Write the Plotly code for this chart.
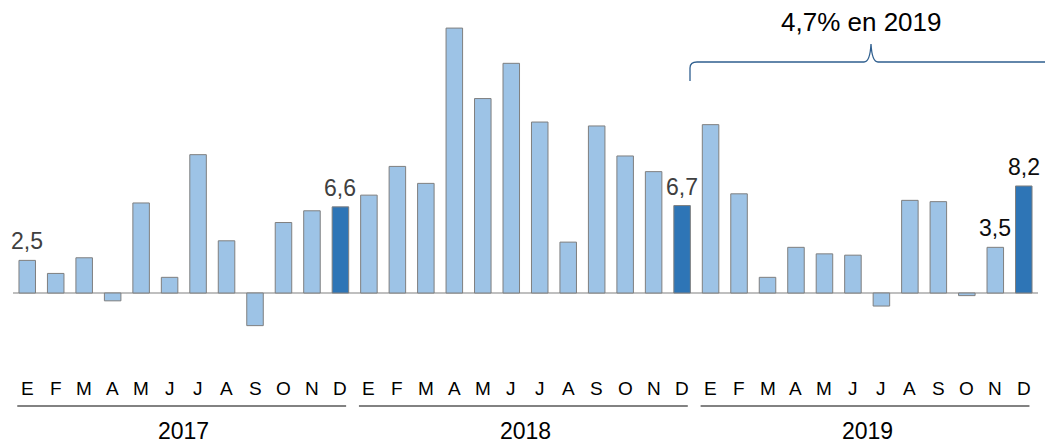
import plotly.graph_objects as go

# ---- data ----
years = ["2017", "2018", "2019"]
month_letters = ["E", "F", "M", "A", "M", "J", "J", "A", "S", "O", "N", "D"]
values_2017 = [2.5, 1.5, 2.7, -0.6, 6.9, 1.2, 10.6, 4.0, -2.5, 5.4, 6.3, 6.6]
values_2018 = [7.5, 9.7, 8.4, 20.3, 14.9, 17.6, 13.1, 3.9, 12.8, 10.5, 9.3, 6.7]
values_2019 = [12.9, 7.6, 1.2, 3.5, 3.0, 2.9, -1.0, 7.1, 7.0, -0.2, 3.5, 8.2]
highlight_idx = [11, 23, 35]          # December bars
labeled_idx = [0, 11, 23, 34, 35]     # bars with value labels
annual_note = "4,7% en 2019"

values = values_2017 + values_2018 + values_2019
months = month_letters * len(years)
xs = list(range(len(values)))

LIGHT = "#9DC3E6"
DARK = "#2E75B6"
colors = [DARK if i in highlight_idx else LIGHT for i in xs]

W, H = 1045, 442
ML, MR, MT, MB = 13, 7, 0, 102
PW, PH = W - ML - MR, H - MT - MB
FONT = "Liberation Sans, Arial, sans-serif"


def px_x(p):
    return (p - ML) / PW


def px_y(p):
    return (MT + PH - p) / PH


fig = go.Figure(go.Bar(
    x=xs, y=values,
    marker=dict(color=colors, line=dict(color="#7F7F7F", width=1)),
    width=0.58,
    hoverinfo="skip",
))

annotations = []
# month letters
for i, m in zip(xs, months):
    annotations.append(dict(x=i, y=0, xref="x", yref="paper", text=m,
                            showarrow=False, xanchor="center",
                            yanchor="middle", yshift=-48,
                            font=dict(family=FONT, size=19, color="#000000")))
# year labels and separator lines
shapes = []
for k, yr in enumerate(years):
    start, end = 12 * k, 12 * k + 11
    annotations.append(dict(x=(start + end) / 2, y=0, xref="x", yref="paper",
                            text=yr, showarrow=False, xanchor="center",
                            yanchor="middle", yshift=-91,
                            font=dict(family=FONT, size=23, color="#000000")))
    shapes.append(dict(type="line", xref="x", yref="paper",
                       x0=start - 0.35, x1=end + 0.2,
                       y0=px_y(406), y1=px_y(406),
                       line=dict(color="#595959", width=1.5)))

# value labels
for i in labeled_idx:
    v = values[i]
    txt = f"{v:.1f}".replace(".", ",")
    col = "#404040" if i < 30 else "#0D0D0D"
    annotations.append(dict(x=i, y=v, xref="x", yref="y", text=txt,
                            showarrow=False, xanchor="center",
                            yanchor="bottom", yshift=4,
                            font=dict(family=FONT, size=23, color=col)))

# brace over 2019
pts = [
    ("M", [(690, 81)]), ("L", [(690, 68)]), ("Q", [(690, 62), (697, 62)]),
    ("L", [(864, 62)]), ("Q", [(870, 62), (871, 44)]),
    ("Q", [(872, 62), (878, 62)]), ("L", [(1046, 62)]),
]
path = " ".join(
    cmd + " " + " ".join(f"{px_x(a):.5f},{px_y(b):.5f}" for a, b in coords)
    for cmd, coords in pts
)
shapes.append(dict(type="path", xref="paper", yref="paper", path=path,
                   line=dict(color="#2F5F8F", width=1.3)))
annotations.append(dict(x=px_x(861), y=px_y(22.5), xref="paper", yref="paper",
                        text=annual_note, showarrow=False, xanchor="center",
                        yanchor="middle",
                        font=dict(family=FONT, size=26, color="#000000")))

fig.update_layout(
    width=W, height=H,
    margin=dict(l=ML, r=MR, t=MT, b=MB),
    paper_bgcolor="white", plot_bgcolor="white",
    showlegend=False,
    annotations=annotations,
    shapes=shapes,
    xaxis=dict(range=[-0.5, len(values) - 0.5], showticklabels=False,
               showgrid=False, zeroline=False, showline=False, ticks=""),
    yaxis=dict(range=[-(MT + PH - 293) / 13.05, 293 / 13.05],
               showticklabels=False, showgrid=False, zeroline=True,
               zerolinecolor="#BFBFBF", zerolinewidth=2, ticks=""),
)

fig.write_html(
    "out.html",
    config={"displayModeBar": False},
    post_script="document.body.style.margin='0';"
                "document.body.style.overflow='hidden';",
)
